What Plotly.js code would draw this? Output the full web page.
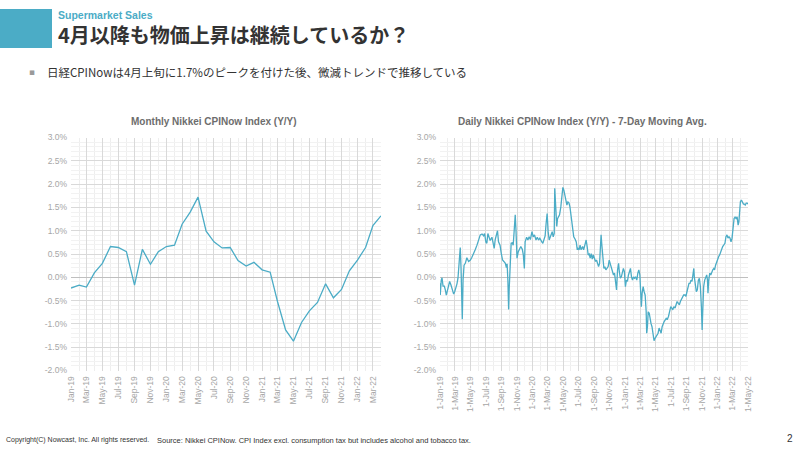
<!DOCTYPE html>
<html>
<head>
<meta charset="utf-8">
<script src="https://cdn.plot.ly/plotly-3.0.1.min.js"></script>
<style>
  html, body { margin: 0; padding: 0; background: #ffffff; }
  #chart { width: 800px; height: 450px; }
</style>
</head>
<body>
<div id="chart"></div>
<script>
// ---------- Data ----------
const monthlyDates = [
  '2019-01-01','2019-02-01','2019-03-01','2019-04-01','2019-05-01','2019-06-01','2019-07-01','2019-08-01','2019-09-01','2019-10-01','2019-11-01','2019-12-01',
  '2020-01-01','2020-02-01','2020-03-01','2020-04-01','2020-05-01','2020-06-01','2020-07-01','2020-08-01','2020-09-01','2020-10-01','2020-11-01','2020-12-01',
  '2021-01-01','2021-02-01','2021-03-01','2021-04-01','2021-05-01','2021-06-01','2021-07-01','2021-08-01','2021-09-01','2021-10-01','2021-11-01','2021-12-01',
  '2022-01-01','2022-02-01','2022-03-01','2022-04-01'
];
const monthlyValues = [
  -0.23,-0.17,-0.21,0.10,0.30,0.66,0.64,0.55,-0.17,0.60,0.28,0.55,
  0.66,0.69,1.14,1.40,1.72,0.99,0.76,0.63,0.64,0.36,0.24,0.32,
  0.16,0.11,-0.52,-1.13,-1.37,-0.97,-0.72,-0.54,-0.14,-0.44,-0.26,0.14,
  0.37,0.64,1.11,1.32
];

// Daily series (7-day moving avg), days counted from 1-Jan-2019
const dailyStart = '2019-01-01';
const dailyDays = [
  0,1,5,8,12,17,21,25,30,34, 38,43,49,54,58,62,67,71,74,77, 80,83,85,88,91,95,100,106,113,120,
  126,133,139,146,152,159,166,172,176,181, 185,189,195,198,205,210,214,218,223,227, 231,237,242,247,252,258,262,265,268,271,
  273,277,281,285,289,293,297,300,304,309, 314,319,325,329,333,336,342,347,352,357, 363,368,373,379,384,389,394,
  396,402,406,411,415,419,423,427,431,435, 439,443,447,451,453,456,459,461,464,468, 472,477,481,485,489,493,497,501,505,509,
  513,517,521,524,528,534,538,542,545,549, 553,557,563,567,572,577,581,585,589,593, 597,601,605,610,614,618,622,626,630,634,
  636,639,643,647,651,655,659,664,668,672, 676,680,685,689,693,697,701,705,708,712, 716,720,724,728,732,736,740,744,748,752,
  756,760,764,768,772,777,781,785,789,793, 795,798,802,806,810,814,816,819,822,826, 829,833,837,841,845,849,853,857,861,865,
  869,873,877,881,885,
  893,897,902,907,911,915,919,923,928,932, 936,941,945,949,954,958,962,967,971,975, 979,983,987,991,995,999,1002,1004,1008,1012,
  1016,1020,1024,1028,1032,1035,1037,1041,1045,1049, 1053,1056,1058,1061,1065,1069,1073,1077,1081,1084,
  1088,1092,1096,1100,1104,1108,1112,1116,1120,1125, 1129,1133,1137,1141,1145,1149,1153,1157,1161,1165,
  1169,1173,1177,1180,1183,1186,1190,1194,1198,1202, 1205,1209,1213,1216
];
const dailyValues = [
  -0.13,-0.38,-0.06,-0.01,-0.19,-0.19,-0.27,-0.38,-0.27,-0.20, -0.09,-0.16,-0.27,-0.36,-0.31,-0.24,-0.14,-0.02,0.21,0.37, 0.64,0.21,-0.27,-0.90,-0.06,0.26,0.30,0.42,0.34,0.37,
  0.43,0.50,0.59,0.69,0.79,0.91,0.93,0.89,0.94,0.76, 0.73,0.94,0.84,0.79,0.86,0.73,0.62,0.81,0.91,1.00, 0.76,0.69,0.51,0.37,0.34,0.30,0.21,0.29,-0.06,-0.69,
  -0.27,0.30,0.73,0.74,0.69,1.01,1.34,1.01,0.41,0.55, 0.62,0.66,0.60,0.48,0.19,0.76,0.86,0.80,0.87,0.81, 0.98,0.87,0.91,0.80,0.86,0.80,0.84,
  0.81,0.76,0.73,0.86,0.89,1.16,1.37,0.98,0.80,0.86, 0.94,0.98,0.87,0.94,1.91,1.44,1.09,1.09,1.26,1.30, 1.34,1.51,1.73,1.93,1.87,1.76,1.59,1.55,1.62,1.60,
  1.51,1.30,1.12,1.01,0.87,0.81,0.76,0.59,0.62,0.59, 0.69,0.59,0.66,0.59,0.69,0.80,0.66,0.48,0.50,0.41, 0.51,0.39,0.48,0.41,0.34,0.37,0.30,0.23,0.30,0.69,
  0.91,0.69,0.44,0.19,0.23,0.16,0.19,0.23,0.37,0.30, 0.21,0.16,0.05,0.09,-0.13,-0.27,0.16,0.30,0.12,-0.02, 0.01,0.09,0.19,0.12,-0.20,-0.06,-0.09,0.05,0.16,0.19,
  0.01,-0.06,0.01,-0.02,0.01,-0.06,0.09,0.16,0.05,-0.27, -0.63,-0.34,-0.20,-0.31,-0.38,-0.74,-1.20,-1.06,-0.74,-0.77, -0.91,-0.99,-1.06,-1.24,-1.36,-1.31,-1.27,-1.24,-1.20,-1.09,
  -1.16,-1.20,-1.06,-0.99,-0.95,
  -0.88,-0.91,-0.84,-0.74,-0.63,-0.66,-0.70,-0.63,-0.66,-0.59, -0.52,-0.56,-0.59,-0.52,-0.45,-0.41,-0.38,-0.38,-0.41,-0.31, -0.20,-0.13,-0.13,-0.06,-0.09,0.05,0.19,0.01,-0.24,-0.31,
  -0.27,-0.06,-0.02,-0.20,-0.63,-1.13,-0.77,-0.20,-0.06,0.01, 0.05,-0.06,-0.34,-0.06,0.09,0.05,0.12,0.16,0.19,0.16,
  0.26,0.34,0.37,0.44,0.48,0.55,0.62,0.66,0.69,0.73, 0.87,0.91,0.84,0.87,0.84,0.76,0.84,1.09,1.26,1.29,
  1.26,1.30,1.12,1.19,1.44,1.62,1.66,1.60,1.57,1.57, 1.55,1.59,1.59,1.57
];

const yTickVals = [-2.0,-1.5,-1.0,-0.5,0.0,0.5,1.0,1.5,2.0,2.5,3.0];
const yTickText = ['-2.0%','-1.5%','-1.0%','-0.5%','0.0%','0.5%','1.0%','1.5%','2.0%','2.5%','3.0%'];

const headerKicker = 'Supermarket Sales';
const headerTitle = '4月以降も物価上昇は継続しているか？';
const bulletText = '日経CPINowは4月上旬に1.7%のピークを付けた後、微減トレンドで推移している';
const leftTitle = 'Monthly Nikkei CPINow Index (Y/Y)';
const rightTitle = 'Daily Nikkei CPINow Index (Y/Y) - 7-Day Moving Avg.';
const footerCopy = 'Copyright(C) Nowcast, Inc. All rights reserved.';
const footerSource = 'Source: Nikkei CPINow. CPI Index excl. consumption tax but includes alcohol and tobacco tax.';
const pageNo = '2';

// ---------- Build ----------
const startMs = Date.parse(dailyStart + 'T00:00:00Z');
const dailyDates = dailyDays.map(d => new Date(startMs + d * 86400000).toISOString().slice(0, 10));

const LINE = '#4BACC6';
const W = 800, H = 450;
const px = x => x / W;
const py = y => 1 - y / H;

const tickFont = { family: 'Arial, "Liberation Sans", sans-serif', size: 8.5, color: '#a6a6a6' };

function yAxis(anchor) {
  return {
    anchor: anchor,
    domain: [py(370.5), py(137.5)],
    range: [-2, 3],
    tickvals: yTickVals,
    ticktext: yTickText,
    tickfont: tickFont,
    ticks: '',
    ticklabelstandoff: 3,
    showgrid: true,
    gridcolor: '#d9d9d9',
    gridwidth: 1,
    zeroline: true,
    zerolinecolor: '#bfbfbf',
    zerolinewidth: 1,
    showline: false,
    fixedrange: true,
    minor: { dtick: 0.1, tick0: 0, showgrid: true, gridcolor: '#f2f2f2', gridwidth: 1, ticks: '' }
  };
}

const traces = [
  { x: monthlyDates, y: monthlyValues, type: 'scatter', mode: 'lines',
    line: { color: LINE, width: 1.3 }, xaxis: 'x', yaxis: 'y', hoverinfo: 'skip' },
  { x: dailyDates, y: dailyValues, type: 'scatter', mode: 'lines',
    line: { color: LINE, width: 1.3 }, xaxis: 'x2', yaxis: 'y2', hoverinfo: 'skip' }
];

const ann = (text, x, y, opts) => Object.assign({
  text: text, x: px(x), y: py(y), xref: 'paper', yref: 'paper',
  showarrow: false, xanchor: 'left', yanchor: 'middle', borderpad: 0
}, opts);

const layout = {
  width: W, height: H,
  margin: { l: 0, r: 0, t: 0, b: 0 },
  paper_bgcolor: '#ffffff', plot_bgcolor: '#ffffff',
  showlegend: false,
  xaxis: {
    anchor: 'y', domain: [px(71), px(381)], type: 'date',
    range: ['2019-01-01', '2022-04-01'],
    tick0: '2019-01-01', dtick: 'M2', tickformat: '%b-%y', tickangle: -90,
    tickfont: tickFont, ticks: '', ticklabelstandoff: 3,
    showgrid: true, gridcolor: '#d9d9d9', zeroline: false, showline: false, fixedrange: true,
    minor: { dtick: 'M1', showgrid: true, gridcolor: '#eeeeee', ticks: '' }
  },
  yaxis: yAxis('x'),
  xaxis2: {
    anchor: 'y2', domain: [px(440), px(748)], type: 'date',
    range: ['2019-01-01', '2022-05-01'],
    tick0: '2019-01-01', dtick: 'M2', tickformat: '%-d-%b-%y', tickangle: -90,
    tickfont: tickFont, ticks: '', ticklabelstandoff: 3,
    showgrid: true, gridcolor: '#d9d9d9', zeroline: false, showline: false, fixedrange: true,
    minor: { dtick: 'M1', showgrid: true, gridcolor: '#eeeeee', ticks: '' }
  },
  yaxis2: yAxis('x2'),
  shapes: [
    { type: 'rect', xref: 'paper', yref: 'paper', x0: 0, x1: px(52), y0: py(48), y1: py(9),
      fillcolor: LINE, line: { width: 0 } }
  ],
  annotations: [
    ann(headerKicker, 57, 15, { font: { family: 'Arial, "Liberation Sans", sans-serif', size: 10.5, color: LINE, weight: 'bold' } }),
    ann(headerTitle, 57, 35, { font: { family: '"Noto Sans CJK JP", sans-serif', size: 20, color: '#333333', weight: 'bold' } }),
    ann('▪', 28, 72, { font: { family: 'DejaVu Sans, sans-serif', size: 9, color: '#9a9a9a' } }),
    ann(bulletText, 46, 72, { font: { family: '"Noto Sans CJK JP", sans-serif', size: 11.5, color: '#333333' } }),
    ann(leftTitle, 214, 121, { xanchor: 'center', font: { family: 'Arial, "Liberation Sans", sans-serif', size: 10, color: '#6d6d6d', weight: 'bold' } }),
    ann(rightTitle, 582, 121, { xanchor: 'center', font: { family: 'Arial, "Liberation Sans", sans-serif', size: 10, color: '#6d6d6d', weight: 'bold' } }),
    ann(footerCopy, 5, 440, { font: { family: '"Liberation Sans Narrow", "Liberation Sans", Arial, sans-serif', size: 7, color: '#333333' } }),
    ann(footerSource, 156, 440, { font: { family: '"Liberation Sans Narrow", "Liberation Sans", Arial, sans-serif', size: 7.5, color: '#333333' } }),
    ann(pageNo, 786, 438, { font: { family: 'Arial, "Liberation Sans", sans-serif', size: 10, color: '#333333' } })
  ]
};

Plotly.newPlot('chart', traces, layout, { staticPlot: true, displayModeBar: false });
</script>
</body>
</html>
